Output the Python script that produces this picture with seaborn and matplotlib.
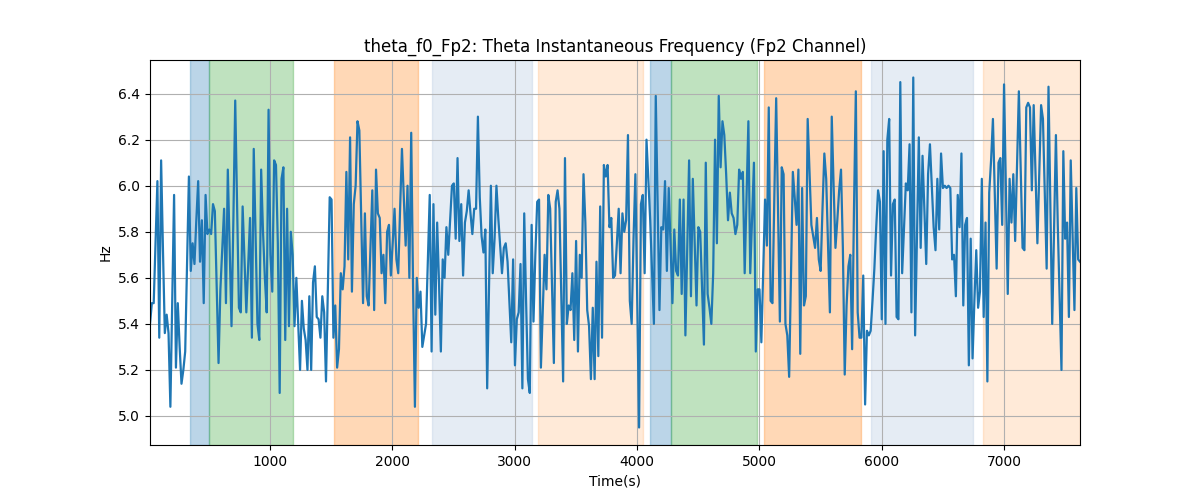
import numpy as np
import pandas as pd
import seaborn as sns
import matplotlib
matplotlib.use("Agg")
import matplotlib.pyplot as plt

# theta instantaneous frequency (Hz), in time order
seg_a = [5.40, 5.49, 5.49, 5.75, 6.02, 5.34, 6.11, 5.72, 5.36, 5.44, 5.36, 5.04, 5.50, 5.96, 5.21, 5.49,
         5.30, 5.14, 5.20, 5.28, 5.66, 6.04, 5.63, 5.75, 5.66, 5.85, 6.02, 5.67, 5.85, 5.49, 5.96, 5.79,
         5.81, 5.79, 5.92, 5.89, 5.56, 5.23, 5.55, 5.72, 5.90, 5.49, 6.07, 5.73, 5.39, 5.85, 6.37, 5.92,
         5.47, 5.45, 5.91, 5.68, 5.45, 5.65, 5.86, 5.34, 6.16, 5.78, 5.40, 5.33, 6.07]
seg_b = [5.80, 5.60, 5.45, 6.33, 5.70, 5.54, 6.11, 6.09, 5.75, 5.10, 6.03, 6.08, 5.33, 5.90, 5.39, 5.80,
         5.70, 5.39, 5.60, 5.40, 5.20, 5.50, 5.38, 5.33, 5.20, 5.52, 5.20, 5.58, 5.65, 5.43, 5.42, 5.34,
         5.52, 5.45, 5.15, 5.55, 5.95, 5.94, 5.34, 5.48, 5.21, 5.29, 5.62, 5.55, 5.65, 6.06, 5.68, 6.21,
         5.54, 5.92, 6.00, 6.28, 6.24, 5.86, 5.49, 5.88, 5.52, 5.48, 5.73, 5.98, 5.46, 6.07]
seg_c = [5.88, 5.86, 5.62, 5.70, 5.49, 5.80, 5.83, 5.61, 5.75, 5.90, 5.68, 5.62, 5.90, 6.16, 5.95, 5.74,
         6.00, 5.60, 6.23, 5.56, 5.04, 5.60, 5.47, 5.54, 5.30, 5.35, 5.40, 5.68, 5.96, 5.28, 5.92, 5.44,
         5.84, 5.58, 5.28, 5.68, 5.60, 5.82, 5.70, 5.85, 6.00, 6.01, 5.77, 6.12, 5.76, 5.92, 5.61, 5.84,
         5.89, 5.98, 5.88, 5.79, 5.90, 5.90, 6.30, 5.95, 5.78, 5.71, 5.81, 5.12, 5.56, 6.00]
seg_d = [5.62, 5.77, 6.00, 5.86, 5.74, 5.62, 5.73, 5.75, 5.67, 5.50, 5.32, 5.68, 5.22, 5.42, 5.45, 5.66,
         5.12, 5.88, 5.50, 5.16, 5.10, 5.83, 5.41, 5.70, 5.93, 5.94, 5.21, 5.45, 5.70, 5.55, 5.96, 5.90,
         5.56, 5.23, 5.93, 5.98, 5.90, 5.52, 5.15, 6.12, 5.40, 5.48, 5.46, 5.62, 5.33, 5.76, 5.28, 5.70,
         5.60, 6.05, 5.84, 5.46, 5.39, 5.16, 5.47, 5.16, 5.67, 5.26, 5.91, 5.34, 6.09, 6.04, 6.09]
seg_e = [5.82, 5.86, 5.60, 5.61, 5.75, 5.90, 5.62, 5.88, 5.80, 5.85, 6.22, 5.50, 5.40, 5.77, 6.05, 5.50,
         4.95, 5.92, 5.96, 5.62, 6.20, 6.02, 5.85, 5.62, 5.40, 6.39, 5.92, 5.46, 5.82, 5.81, 6.02, 5.63,
         5.99, 5.74, 5.49, 5.81, 5.63, 5.61, 5.94, 5.53, 5.94, 5.35, 5.73, 6.11, 5.52, 6.03, 5.76, 5.48,
         5.82, 5.80, 5.55, 5.31, 6.10, 5.53, 5.47, 5.40, 5.62, 6.20, 5.75, 6.39, 6.08, 6.28, 6.22]
seg_f = [6.05, 5.85, 5.97, 5.88, 5.86, 5.79, 5.83, 6.07, 6.03, 6.06, 5.62, 5.95, 6.28, 5.62, 5.86, 6.10,
         5.28, 5.55, 5.55, 5.32, 5.63, 5.94, 5.74, 6.34, 5.50, 5.49, 5.95, 6.38, 5.90, 5.41, 6.08, 6.05,
         5.40, 5.35, 5.17, 5.62, 6.06, 5.95, 5.83, 6.07, 5.27, 5.99, 5.48, 5.52, 6.29, 6.06, 5.83, 5.78,
         5.73, 5.86, 5.68, 5.63, 5.90, 6.14, 6.03, 5.74, 5.45, 6.30, 6.00, 5.73, 5.85, 5.98, 6.07]
seg_g = [5.73, 5.18, 5.48, 5.65, 5.70, 5.29, 5.90, 6.41, 5.45, 5.34, 5.34, 5.61, 5.05, 5.37, 5.35, 5.37,
         5.50, 5.64, 5.82, 5.98, 5.93, 5.42, 6.15, 5.40, 6.20, 6.29, 5.61, 5.92, 5.94, 5.43, 5.42, 6.45,
         5.62, 5.82, 6.01, 5.98, 6.18, 5.45, 6.47, 5.35, 5.78, 6.21, 5.73, 6.13, 5.90, 5.66, 6.05, 6.18,
         6.00, 5.82, 5.72, 6.03, 5.81, 6.14, 5.99, 6.00, 5.99, 6.00, 5.99, 5.68, 5.70, 5.52, 5.96, 5.82]
seg_h = [6.14, 5.48, 5.83, 5.86, 5.22, 5.77, 5.25, 5.50, 5.72, 5.47, 5.54, 6.03, 5.43, 5.84, 5.15, 5.97,
         6.11, 6.29, 5.96, 5.64, 6.10, 6.12, 5.83, 6.44, 5.98, 5.53, 6.03, 5.84, 6.05, 5.76, 6.08, 6.41,
         6.07, 5.73, 5.72, 6.34, 6.36, 6.34, 5.98, 6.35, 6.05, 5.75, 6.05, 6.35, 6.29, 5.96, 5.64, 6.43,
         5.90, 5.40, 5.81, 6.22, 5.83, 5.52, 5.20, 6.15, 5.77, 5.84, 5.43, 6.11, 5.78, 5.46, 5.99, 5.68,
         5.67]

freq = seg_a + seg_b + seg_c + seg_d + seg_e + seg_f + seg_g + seg_h
t_start, t_end = 20, 7620

# shaded stage intervals (seconds)
span_start = [346, 506, 1523, 2322, 3190, 4109, 4275, 5035, 5913, 6828]
span_end = [506, 1192, 2213, 3139, 4046, 4275, 4981, 5828, 6744, 7620]
span_kind = ["a", "b", "c", "d", "e", "a", "b", "c", "d", "e"]
span_style = {
    "a": ("tab:blue", 0.3),
    "b": ("tab:green", 0.3),
    "c": ("tab:orange", 0.3),
    "d": ("lightsteelblue", 0.32),
    "e": ("tab:orange", 0.16),
}

df = pd.DataFrame({"time": np.linspace(t_start, t_end, len(freq)), "freq": freq})

fig, ax = plt.subplots(figsize=(12, 5), dpi=100)
for s, e, k in zip(span_start, span_end, span_kind):
    c, a = span_style[k]
    ax.axvspan(s, e, color=c, alpha=a)

sns.lineplot(data=df, x="time", y="freq", ax=ax, color="tab:blue", linewidth=1.6, sort=False)

ax.set_xlim(df["time"].min(), df["time"].max())
ax.grid(True)
ax.set_title("theta_f0_Fp2: Theta Instantaneous Frequency (Fp2 Channel)")
ax.set_xlabel("Time(s)")
ax.set_ylabel("Hz")

fig.savefig("out.png")
